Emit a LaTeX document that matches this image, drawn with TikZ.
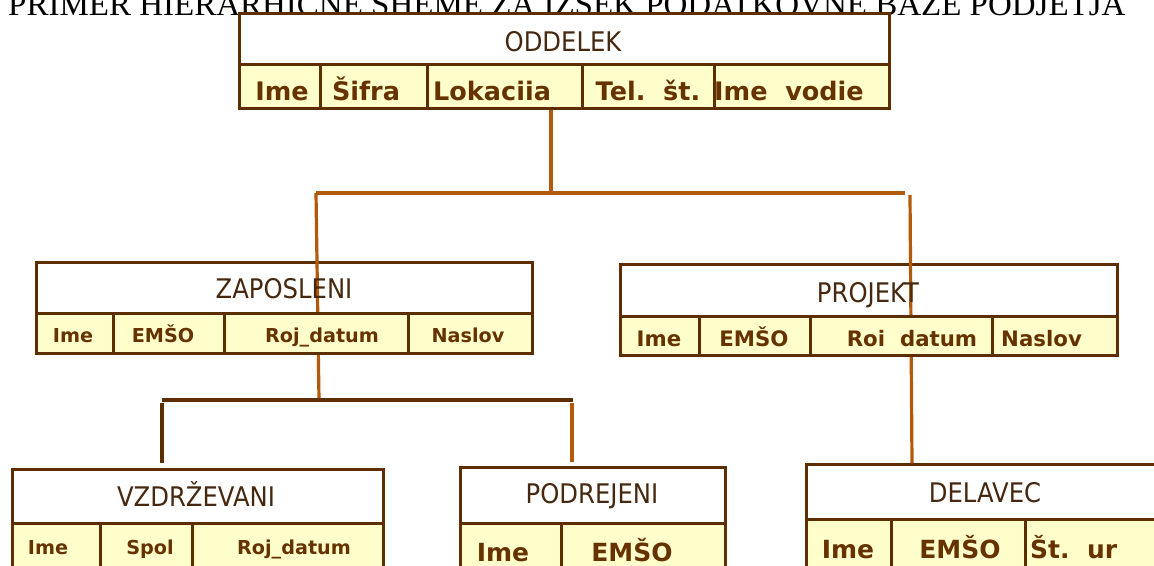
\documentclass[tikz,border=0pt]{standalone}
\usepackage{fontspec}
\newfontfamily\titlefont{Liberation Serif}
\newfontfamily\boxfont[FakeStretch=0.9]{DejaVu Sans}
\newfontfamily\attrfont{DejaVu Sans}

\definecolor{boxline}{HTML}{5C2E00}
\definecolor{attrtext}{HTML}{663300}
\definecolor{rowfill}{HTML}{FFFFCC}
\definecolor{hdrtext}{HTML}{45280F}
\definecolor{linkorange}{HTML}{B25A0A}

\tikzset{
  hdrbox/.style={draw=boxline, line width=3pt, fill=white, anchor=north west, inner sep=0pt},
  attrrow/.style={draw=boxline, line width=3pt, fill=rowfill, anchor=north west, inner sep=0pt},
  divider/.style={draw=boxline, line width=3pt},
  hdrlabel/.style={anchor=base, inner sep=0pt, text=hdrtext, font=\boxfont\fontsize{27}{30}\selectfont},
  attrlabel/.style={anchor=base, inner sep=0pt, text=attrtext},
  attrbig/.style={attrlabel, font=\attrfont\bfseries\fontsize{25.5}{28}\selectfont},
  attrmid/.style={attrlabel, font=\attrfont\bfseries\fontsize{21.3}{24}\selectfont},
  attrsmall/.style={attrlabel, font=\attrfont\bfseries\fontsize{19.2}{22}\selectfont},
  attrlow/.style={attrlabel, font=\attrfont\bfseries\fontsize{25}{28}\selectfont},
  linkorange/.style={draw=linkorange, line width=3.2pt},
  linkbrown/.style={draw=boxline, line width=3.2pt},
}

\begin{document}
\begin{tikzpicture}[x=1pt,y=-1pt]
\useasboundingbox (0,0) rectangle (1154,565);
\fill[white] (0,0) rectangle (1154,565);

% heading line, its upper part runs off the page
\node[anchor=base west, inner sep=0pt, font=\titlefont\fontsize{33}{36}\selectfont] (title) at (8,15)
  {PRIMER HIERARHIČNE SHEME ZA IZSEK PODATKOVNE BAZE PODJETJA};

% header boxes of the tables
\node[hdrbox, minimum width=650pt, minimum height=51pt] (odd) at (238,12) {};
\node[hdrbox, minimum width=496pt, minimum height=51pt] (zap) at (35,261) {};
\node[hdrbox, minimum width=497pt, minimum height=52pt] (prj) at (619,263) {};
\node[hdrbox, minimum width=371pt, minimum height=54pt] (vzd) at (11,468) {};
\node[hdrbox, minimum width=265pt, minimum height=56pt] (pod) at (459,466) {};
\node[hdrbox, minimum width=360pt, minimum height=55pt] (del) at (805,463) {};

% attribute row of the top table
\node[attrrow, minimum width=650pt, minimum height=44pt] (odd-row) at (238,63) {};

% junction points of the tree
\coordinate (top-j) at (551,193);
\coordinate (top-l) at (316,193);
\coordinate (top-r) at (905,193);
\coordinate (zap-j) at (319,400);
\coordinate (prj-t) at (910,195);
\coordinate (del-t) at (912,463);
\coordinate (low-l) at (162,400);
\coordinate (low-r) at (573,400);
\coordinate (vzd-s) at (162,403);
\coordinate (vzd-t) at (162,463);
\coordinate (pod-s) at (572,403);
\coordinate (pod-t) at (572,462);

% connectors
\draw[linkorange] (odd-row.south -| top-j) -- (top-j);
\draw[linkorange] (top-l) -- (top-r);
\draw[linkorange] (top-l) -- (zap-j);
\draw[linkorange] (prj-t) -- (del-t);
\draw[linkbrown] (low-l) -- (low-r);
\draw[linkbrown] (vzd-s) -- (vzd-t);
\draw[linkorange] (pod-s) -- (pod-t);

% attribute rows of the other tables
\node[attrrow, minimum width=496pt, minimum height=40pt] (zap-row) at (35,312) {};
\node[attrrow, minimum width=497pt, minimum height=39pt] (prj-row) at (619,315) {};
\node[attrrow, minimum width=371pt, minimum height=60pt] (vzd-row) at (11,522) {};
\node[attrrow, minimum width=265pt, minimum height=60pt] (pod-row) at (459,522) {};
\node[attrrow, minimum width=360pt, minimum height=60pt] (del-row) at (805,518) {};

% column dividers
\foreach \x in {320,427,582,714} \draw[divider] (\x,63) -- (\x,107);
\foreach \x in {113,224,408} \draw[divider] (\x,312) -- (\x,352);
\foreach \x in {699,810,992} \draw[divider] (\x,315) -- (\x,354);
\foreach \x in {100,192} \draw[divider] (\x,522) -- (\x,570);
\draw[divider] (561,522) -- (561,570);
\foreach \x in {891,1025} \draw[divider] (\x,518) -- (\x,570);

% table names
\node[hdrlabel] (odd-name) at (563,51) {ODDELEK};
\node[hdrlabel] (zap-name) at (284,298) {ZAPOSLENI};
\node[hdrlabel] (prj-name) at (868,302) {PROJEKT};
\node[hdrlabel] (vzd-name) at (196,506) {VZDRŽEVANI};
\node[hdrlabel] (pod-name) at (592,503) {PODREJENI};
\node[hdrlabel] (del-name) at (985,502) {DELAVEC};

% attributes
\node[attrbig] (odd-a1) at (282,100) {Ime};
\node[attrbig] (odd-a2) at (366,100) {Šifra};
\node[attrbig, anchor=base west] (odd-a3) at (433,100) {Lokaciia};
\node[attrbig] (odd-a4) at (648,100) {Tel.\ \ št.};
\node[attrbig, anchor=base west] (odd-a5) at (714,100) {Ime\ \ vodie};

\node[attrsmall] (zap-a1) at (73,342) {Ime};
\node[attrsmall] (zap-a2) at (163,342) {EMŠO};
\node[attrsmall] (zap-a3) at (322,342) {Roj\_datum};
\node[attrsmall] (zap-a4) at (468,342) {Naslov};

\node[attrmid] (prj-a1) at (659,346) {Ime};
\node[attrmid] (prj-a2) at (754,346) {EMŠO};
\node[attrmid] (prj-a3) at (912,346) {Roi\ \ datum};
\node[attrmid, anchor=base west] (prj-a4) at (1001,346) {Naslov};

\node[attrsmall] (vzd-a1) at (48,554) {Ime};
\node[attrsmall] (vzd-a2) at (150,554) {Spol};
\node[attrsmall] (vzd-a3) at (294,554) {Roj\_datum};

\node[attrlow] (pod-a1) at (503,561) {Ime};
\node[attrlow] (pod-a2) at (632,561) {EMŠO};

\node[attrlow] (del-a1) at (848,558) {Ime};
\node[attrlow] (del-a2) at (960,558) {EMŠO};
\node[attrlow, anchor=base west] (del-a3) at (1030,558) {Št.\ \ ur};
\end{tikzpicture}
\end{document}
